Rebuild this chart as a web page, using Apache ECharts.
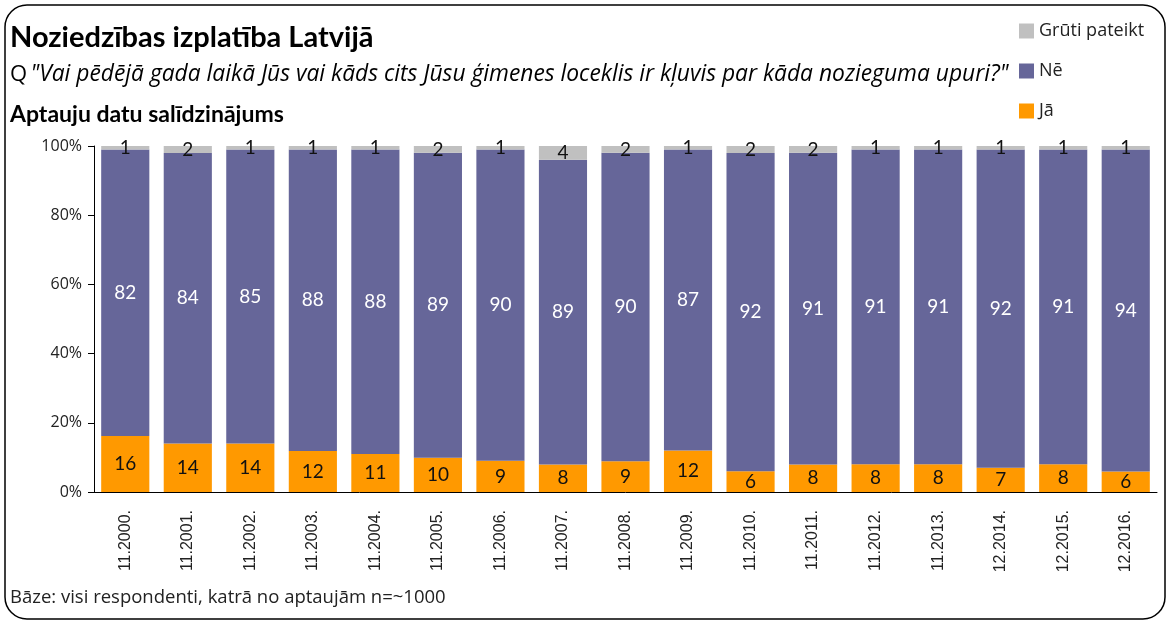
<!DOCTYPE html>
<html lang="lv">
<head>
    <meta charset="UTF-8">
    <script type="text/javascript" src="https://cdn.jsdelivr.net/npm/echarts@6/dist/echarts.min.js"></script>
    <style>
        html, body { margin: 0; padding: 0; background: #fff; }
        #main { width: 1172px; height: 626px; }
    </style>
</head>
<body>
    <div id="main"></div>

    <script type="text/javascript">
        // aptauju datumi
        var periods = ['11.2000.', '11.2001.', '11.2002.', '11.2003.', '11.2004.', '11.2005.', '11.2006.', '11.2007.', '11.2008.',
            '11.2009.', '11.2010.', '11.2011.', '11.2012.', '11.2013.', '12.2014.', '12.2015.', '12.2016.'];
        var ja = [16, 14, 14, 12, 11, 10, 9, 8, 9, 12, 6, 8, 8, 8, 7, 8, 6];
        var ne = [82, 84, 85, 88, 88, 89, 90, 89, 90, 87, 92, 91, 91, 91, 92, 91, 94];
        var gruti = [1, 2, 1, 1, 1, 2, 1, 4, 2, 1, 2, 2, 1, 1, 1, 1, 1];
        var yTicks = [0, 20, 40, 60, 80, 100];

        // 100% stabiņi - katru stabiņu pārrēķina uz 100
        function share(arr, i) {
            var total = ja[i] + ne[i] + gruti[i];
            return { value: arr[i] / total * 100, shown: arr[i] };
        }
        function toData(arr) {
            var out = [];
            for (var i = 0; i < arr.length; i++) {
                out.push(share(arr, i));
            }
            return out;
        }

        function barLabel(color) {
            return {
                show: true,
                position: 'inside',
                color: color,
                fontFamily: 'Lato',
                fontSize: 19,
                formatter: function (p) { return p.data.shown; }
            };
        }

        var myChart = echarts.init(document.getElementById('main'));
        var option = {
            animation: false,
            color: ['#FF9900', '#666699', '#C0C0C0'],
            textStyle: { fontFamily: 'Open Sans' },
            grid: { left: 94, right: 15, top: 146, bottom: 134 },
            legend: {
                data: ['Grūti pateikt', 'Nē', 'Jā'],
                orient: 'vertical',
                left: 1014,
                top: 17,
                itemWidth: 15,
                itemHeight: 15,
                itemGap: 22,
                icon: 'rect',
                textStyle: { fontFamily: 'Open Sans', fontSize: 18, color: '#222' }
            },
            xAxis: {
                type: 'category',
                data: periods,
                axisLine: { lineStyle: { color: '#000', width: 1 } },
                axisTick: { length: 6, lineStyle: { color: '#000' } },
                axisLabel: {
                    rotate: 90,
                    margin: 18,
                    fontFamily: 'Liberation Sans',
                    fontSize: 16,
                    color: '#222'
                }
            },
            yAxis: {
                type: 'value',
                min: yTicks[0],
                max: yTicks[yTicks.length - 1],
                interval: 20,
                splitLine: { show: false },
                axisLine: { show: true, lineStyle: { color: '#000', width: 1 } },
                axisTick: { show: true, length: 6, lineStyle: { color: '#000' } },
                axisLabel: {
                    formatter: '{value}%',
                    margin: 12,
                    fontFamily: 'Open Sans',
                    fontSize: 16,
                    color: '#222'
                }
            },
            series: [
                {
                    name: 'Jā',
                    type: 'bar',
                    stack: 'all',
                    barCategoryGap: '23%',
                    label: barLabel('#111'),
                    data: toData(ja)
                },
                {
                    name: 'Nē',
                    type: 'bar',
                    stack: 'all',
                    label: barLabel('#fff'),
                    data: toData(ne)
                },
                {
                    name: 'Grūti pateikt',
                    type: 'bar',
                    stack: 'all',
                    label: barLabel('#111'),
                    data: toData(gruti)
                }
            ],
            graphic: [
                {
                    type: 'rect',
                    shape: { x: 5, y: 5, width: 1160, height: 614, r: 22 },
                    style: { fill: 'none', stroke: '#000', lineWidth: 1.5 },
                    silent: true
                },
                {
                    type: 'text',
                    left: 10,
                    top: 23,
                    style: { text: 'Noziedzības izplatība Latvijā', fontFamily: 'Lato', fontWeight: 'bold', fontSize: 29, fill: '#000' }
                },
                {
                    type: 'text',
                    left: 10,
                    top: 63,
                    style: {
                        text: '{q|Q} {i|"Vai pēdējā gada laikā Jūs vai kāds cits Jūsu ģimenes loceklis ir kļuvis par kāda nozieguma upuri?"}',
                        rich: {
                            q: { fontFamily: 'Open Sans', fontSize: 22, fill: '#000' },
                            i: { fontFamily: 'Open Sans', fontStyle: 'italic', fontSize: 22.8, fill: '#000' }
                        }
                    }
                },
                {
                    type: 'text',
                    left: 10,
                    top: 103,
                    style: { text: 'Aptauju datu salīdzinājums', fontFamily: 'Lato', fontWeight: 'bold', fontSize: 23, fill: '#000' }
                },
                {
                    type: 'text',
                    left: 10,
                    top: 588,
                    style: { text: 'Bāze: visi respondenti, katrā no aptaujām n=~1000', fontFamily: 'Open Sans', fontSize: 18.5, fill: '#222' }
                }
            ]
        };
        myChart.setOption(option);
    </script>
</body>
</html>
